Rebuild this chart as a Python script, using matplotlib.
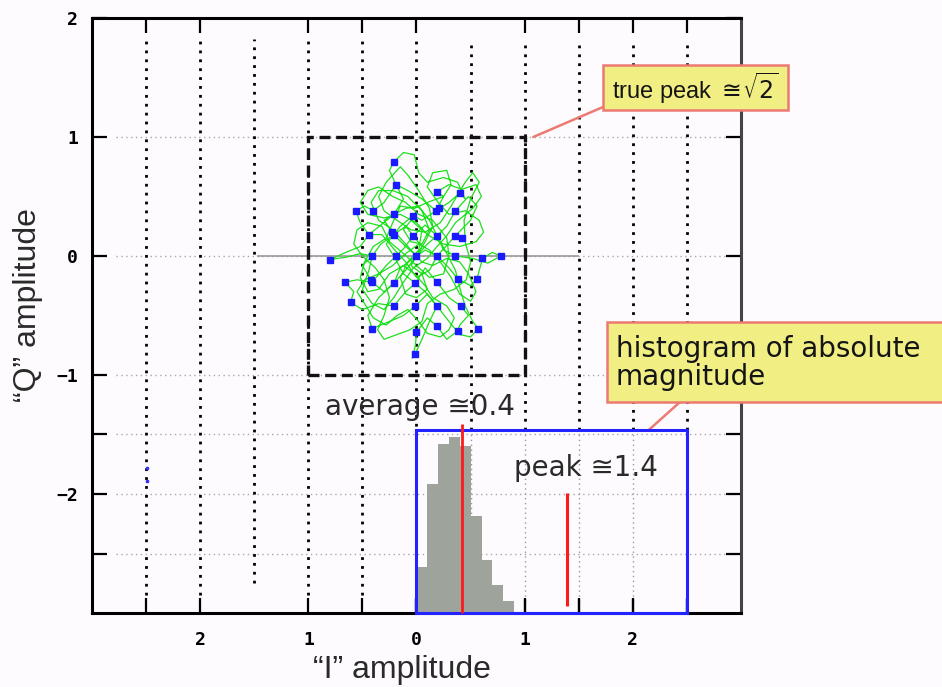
import matplotlib
matplotlib.use("Agg")
import matplotlib.pyplot as plt
from matplotlib.patches import Rectangle
import numpy as np

# ---- data ----
# green trajectory of the received (I, Q) signal, first pass
walk_i = [0.00, -0.10, -0.21, -0.30, -0.21, -0.12, -0.19, -0.25, -0.21, -0.12,
          -0.02, 0.02, 0.10, 0.25, 0.38, 0.45, 0.40, 0.30, 0.18, 0.05,
          -0.03, -0.15, -0.21, -0.33, -0.41, -0.50, -0.41, -0.30, -0.21, -0.10,
          0.00, 0.10, 0.19, 0.28, 0.36, 0.48, 0.56, 0.50, 0.36, 0.27,
          0.19, 0.30, 0.38, 0.50, 0.56, 0.61, 0.70, 0.78, 0.66, 0.52,
          0.36, 0.25, 0.19, 0.08, -0.03, -0.12, -0.19, -0.28, -0.41, -0.55,
          -0.66, -0.58, -0.61, -0.50, -0.35, -0.21, -0.10, -0.01, 0.08, 0.19,
          0.30, 0.41, 0.48, 0.40, 0.38, 0.28, 0.19, 0.10, 0.00, -0.01,
          -0.04, -0.01, 0.05, 0.12, 0.19, 0.10, -0.01, -0.12, -0.25, -0.41,
          -0.45, -0.35, -0.21, -0.15, -0.03, 0.08, 0.19, 0.12, 0.00, -0.10,
          -0.21, -0.32, -0.44, -0.52, -0.56, -0.48, -0.40, -0.30, -0.19, -0.08,
          0.05, 0.18, 0.25, 0.19, 0.30, 0.42, 0.55, 0.60, 0.52, 0.36,
          0.28, 0.19, 0.10, -0.03, -0.12, -0.21, -0.30, -0.41, -0.50, -0.44,
          -0.41, -0.52, -0.65, -0.80, -0.68, -0.52, -0.44, -0.33, -0.21, -0.10,
          0.02, 0.12, 0.19, 0.28, 0.36, 0.41, 0.45, 0.52, 0.57, 0.50,
          0.40, 0.30, 0.19, 0.08, -0.01, -0.12, -0.21, -0.28, -0.21, -0.10,
          -0.03, 0.05, 0.00]
walk_q = [0.00, 0.08, 0.18, 0.30, 0.35, 0.48, 0.60, 0.72, 0.79, 0.87,
          0.85, 0.70, 0.62, 0.66, 0.62, 0.48, 0.53, 0.45, 0.38, 0.30,
          0.34, 0.25, 0.18, 0.10, 0.00, -0.08, -0.22, -0.30, -0.23, -0.12,
          0.00, 0.10, 0.17, 0.25, 0.38, 0.50, 0.42, 0.30, 0.17, 0.08,
          0.00, -0.10, -0.19, -0.25, -0.19, -0.02, 0.03, 0.00, -0.06, -0.02,
          0.00, 0.05, 0.17, 0.26, 0.17, 0.06, 0.00, -0.08, -0.22, -0.20,
          -0.22, -0.30, -0.39, -0.45, -0.40, -0.42, -0.30, -0.23, -0.10, -0.22,
          -0.35, -0.42, -0.50, -0.58, -0.63, -0.70, -0.59, -0.52, -0.64, -0.75,
          -0.86, -0.82, -0.70, -0.55, -0.42, -0.32, -0.42, -0.50, -0.55, -0.61,
          -0.50, -0.35, -0.23, -0.10, -0.02, 0.05, 0.00, -0.12, -0.18, -0.05,
          0.06, 0.18, 0.18, 0.28, 0.38, 0.42, 0.38, 0.45, 0.60, 0.55,
          0.48, 0.38, 0.50, 0.54, 0.60, 0.56, 0.60, 0.50, 0.40, 0.28,
          0.17, 0.08, -0.02, -0.10, -0.22, -0.35, -0.45, -0.40, -0.28, -0.12,
          0.00, 0.02, -0.01, -0.03, 0.02, 0.08, 0.18, 0.26, 0.35, 0.40,
          0.42, 0.30, 0.17, 0.02, -0.12, -0.30, -0.42, -0.55, -0.61, -0.68,
          -0.66, -0.55, -0.42, -0.30, -0.23, -0.15, 0.00, 0.10, 0.18, 0.25,
          0.17, 0.08, 0.00]

# second pass of the same trajectory
walk2_i = [0.08, 0.15, 0.12, 0.02, -0.08, -0.15, -0.28, -0.35, -0.30, -0.18,
           -0.05, 0.08, 0.22, 0.32, 0.45, 0.52, 0.58, 0.50, 0.44, 0.45,
           0.50, 0.46, 0.35, 0.22, 0.10, 0.05, -0.06, -0.18, -0.30, -0.36,
           -0.30, -0.25, -0.30, -0.38, -0.50, -0.58, -0.55, -0.45, -0.32, -0.25,
           -0.12, 0.00, 0.12, 0.25, 0.30, 0.28, 0.15, 0.02, -0.10, -0.22,
           -0.35, -0.45, -0.52, -0.45, -0.30, -0.15, 0.00, 0.10, 0.25, 0.40,
           0.55, 0.62, 0.58, 0.45, 0.30, 0.20, 0.10, 0.15, 0.28, 0.32,
           0.25, 0.10, -0.02, -0.15, -0.22, -0.28, -0.40, -0.48, -0.52, -0.45,
           -0.35, -0.25, -0.12, -0.02, 0.08, 0.15, 0.28, 0.35, 0.30, 0.22,
           0.10, 0.02, -0.08, -0.18, -0.28, -0.40, -0.48, -0.55, -0.48, -0.35,
           -0.22, -0.10, 0.02, 0.12, 0.22, 0.32, 0.40, 0.50, 0.55, 0.48,
           0.40, 0.28, 0.15, 0.05, -0.05, -0.15, -0.22, -0.35, -0.42, -0.35,
           -0.22, -0.08, 0.05, 0.12, 0.05, -0.05, -0.12, -0.05, 0.05, 0.02,
           -0.08, -0.15, -0.10, 0.00, 0.10, 0.05, -0.05, 0.00]
walk2_q = [0.12, 0.25, 0.40, 0.55, 0.68, 0.75, 0.62, 0.50, 0.38, 0.30,
           0.22, 0.20, 0.28, 0.42, 0.62, 0.70, 0.62, 0.48, 0.30, 0.12,
           -0.05, -0.20, -0.28, -0.32, -0.40, -0.55, -0.62, -0.66, -0.70, -0.62,
           -0.50, -0.35, -0.20, -0.10, 0.00, 0.10, 0.22, 0.28, 0.25, 0.12,
           0.02, -0.08, -0.18, -0.15, 0.00, 0.15, 0.30, 0.35, 0.45, 0.50,
           0.58, 0.55, 0.45, 0.35, 0.32, 0.35, 0.28, 0.18, 0.10, 0.08,
           0.12, 0.20, 0.30, 0.38, 0.35, 0.45, 0.58, 0.70, 0.72, 0.60,
           0.50, 0.45, 0.40, 0.42, 0.28, 0.15, 0.08, -0.05, -0.18, -0.30,
           -0.28, -0.15, -0.08, -0.15, -0.25, -0.35, -0.42, -0.52, -0.62, -0.68,
           -0.65, -0.55, -0.45, -0.50, -0.58, -0.52, -0.40, -0.30, -0.20, -0.15,
           -0.08, 0.02, 0.10, 0.05, -0.05, -0.18, -0.32, -0.38, -0.30, -0.15,
           -0.05, -0.02, -0.08, -0.05, 0.05, 0.15, 0.22, 0.30, 0.45, 0.55,
           0.55, 0.50, 0.38, 0.22, 0.10, 0.12, 0.22, 0.30, 0.22, 0.05,
           -0.05, -0.18, -0.32, -0.35, -0.28, -0.15, -0.08, 0.00]

# blue symbol instants
sym_i = [-0.21, -0.19, 0.19, 0.40, -0.56, -0.40, -0.21, -0.03, 0.18, 0.36,
         -0.44, -0.21, -0.03, 0.19, 0.36, -0.80, -0.41, -0.19, 0.00, 0.19,
         0.36, 0.61, 0.78, -0.66, -0.41, -0.21, -0.01, 0.19, 0.38, 0.56,
         -0.61, -0.21, -0.01, 0.19, 0.41, -0.41, 0.19, 0.38, 0.57, 0.00,
         -0.01, -0.23, 0.21, -0.42, 0.42]
sym_q = [0.79, 0.60, 0.54, 0.53, 0.38, 0.38, 0.35, 0.34, 0.38, 0.38,
         0.18, 0.18, 0.17, 0.17, 0.17, -0.03, 0.00, 0.00, 0.00, 0.00,
         0.00, -0.02, 0.00, -0.22, -0.22, -0.23, -0.23, -0.22, -0.19, -0.19,
         -0.39, -0.42, -0.42, -0.42, -0.42, -0.61, -0.59, -0.63, -0.61, -0.64,
         -0.82, 0.20, 0.40, -0.20, 0.15]
stray_i = [-2.49, -2.49]
stray_q = [-1.78, -1.89]

# histogram of |I + jQ|
mag_bins = [0.0, 0.1, 0.2, 0.3, 0.4, 0.5, 0.6, 0.7, 0.8]
mag_counts = [26, 73, 96, 100, 95, 55, 30, 16, 7]
avg_mag = 0.42
peak_mag = 1.39

x_ticks = [-2.5, -2, -1, -0.5, 0, 1, 1.5, 2, 2.5]
x_labels = ["", "2", "1", "", "0", "1", "", "2", ""]
y_ticks = [-2.5, -2, -1.5, -1, 0, 1, 2]
y_labels = ["", "\u22122", "", "\u22121", "0", "1", "2"]
grid_x = [-2.5, -2, -1.5, -1, -0.5, 0, 0.5, 1, 1.5, 2, 2.5]
grid_y = [-2.5, -2, -1.5, -1, 0, 1]

W, H = 942, 687
bg = "#fdfbfd"
sans = ["Liberation Sans", "DejaVu Sans"]
wide = ["DejaVu Sans"]
plt.rcParams["mathtext.fontset"] = "dejavusans"


def fxy(px, py):
    # picture pixel (top-left origin) -> figure fraction
    return px / W, 1 - py / H


fig = plt.figure(figsize=(W / 100, H / 100), dpi=100, facecolor=bg)
ax = fig.add_axes([92 / W, 1 - 613 / H, (741 - 92) / W, (613 - 18) / H])
ax.set_facecolor(bg)
ax.set_xlim(-3, 3)
ax.set_ylim(-3, 2)

for s in ax.spines.values():
    s.set_linewidth(2.2)
ax.spines["right"].set_color("#444444")

ax.set_xticks(x_ticks)
ax.set_xticklabels(x_labels)
ax.set_yticks(y_ticks)
ax.set_yticklabels(y_labels)
ax.tick_params(direction="in", length=11, width=1.6, top=True, right=True,
               labelsize=13)
ax.tick_params(axis="x", pad=13)
ax.tick_params(axis="y", pad=10)
for lab in ax.get_xticklabels() + ax.get_yticklabels():
    lab.set_family("DejaVu Sans Mono")
    lab.set_fontweight("bold")

# light horizontal grid
ax.hlines(grid_y, -2.78, 2.95, colors="#a8a8a8", linewidth=1.0,
          linestyles=(0, (1, 2.5)), zorder=1)
# bold dotted vertical grid
for gx in grid_x:
    if gx > 0:
        ax.vlines(gx, -1.46, 1.82, colors="black", linewidth=2.0,
                  linestyles=(0, (1, 2.2)), zorder=1)
        ax.vlines(gx, -2.9, -1.46, colors="#9a9a9a", linewidth=1.0,
                  linestyles=(0, (1, 2.5)), zorder=1)
    else:
        ax.vlines(gx, -2.85 if gx != -1.5 else -2.75, 1.82, colors="black",
                  linewidth=2.0, linestyles=(0, (1, 2.2)), zorder=1)

# axis through origin
ax.hlines(0, -1.47, 1.5, colors="#999999", linewidth=1.2, zorder=2)

# dashed unit box
ax.add_patch(Rectangle((-1, -1), 2, 2, fill=False, edgecolor="#111111",
                       linewidth=2.4, linestyle=(0, (3.3, 1.7)), zorder=3))

# trajectory and symbols
ax.plot(walk_i + walk2_i, walk_q + walk2_q, color="#1de01d", linewidth=0.9,
        zorder=4)
ax.plot(sym_i, sym_q, linestyle="none", marker="s", markersize=4.5,
        color="#1a1aff", zorder=5)
ax.plot(stray_i, stray_q, linestyle="none", marker="s", markersize=1.5,
        color="#3030ff", zorder=5)

# histogram inset
hx = ax.inset_axes([0, -3, 2.5, 1.54], transform=ax.transData)
hx.patch.set_alpha(0)
hx.set_xlim(0, 2.5)
hx.set_ylim(0, 104)
hx.bar(mag_bins, mag_counts, width=0.102, align="edge", color="#9ea39b",
       linewidth=0, zorder=2)
hx.vlines(avg_mag, 0, 107, colors="#ff1a1a", linewidth=2.0, zorder=3,
          clip_on=False)
hx.vlines(peak_mag, 4, 68, colors="#ff1a1a", linewidth=2.2, zorder=3)
for s in hx.spines.values():
    s.set_color("#2323ff")
    s.set_linewidth(2.2)
hx.set_xticks([0, 1, 1.5, 2, 2.5])
hx.set_xticklabels([])
hx.set_yticks([])
hx.tick_params(axis="x", direction="in", length=10, width=1.6, color="black")

ax.text(0.03, -1.27, "average \u22450.4", ha="center", va="center",
        fontsize=20, family=wide, color="#2a2a2a", zorder=6)
ax.text(1.57, -1.78, "peak \u22451.4", ha="center", va="center",
        fontsize=20, family=wide, color="#2a2a2a", zorder=6)

# yellow callouts
yellow = "#f1ee84"
edge = "#ec7a72"
fig.patches.append(Rectangle(fxy(603, 110), 185 / W, 45 / H,
                             transform=fig.transFigure, facecolor=yellow,
                             edgecolor=edge, linewidth=1.8, zorder=10))
fig.text(*fxy(695, 88), r"true peak $\cong\!\sqrt{2}$", ha="center",
         va="center", fontsize=17, family=sans, color="#151515", zorder=11)
ax.annotate("", xy=(1.08, 1.0), xytext=fxy(603, 107),
            textcoords="figure fraction", annotation_clip=False,
            arrowprops=dict(arrowstyle="-", color=edge, linewidth=1.8,
                            shrinkA=0, shrinkB=0))

fig.patches.append(Rectangle(fxy(607, 402), 345 / W, 80 / H,
                             transform=fig.transFigure, facecolor=yellow,
                             edgecolor=edge, linewidth=1.8, zorder=10))
fig.text(*fxy(616, 363), "histogram of absolute\nmagnitude", ha="left",
         va="center", fontsize=20, family=wide, color="#151515",
         linespacing=1.0, zorder=11)
ax.annotate("", xy=(2.15, -1.46), xytext=fxy(680, 402),
            textcoords="figure fraction", annotation_clip=False,
            arrowprops=dict(arrowstyle="-", color=edge, linewidth=1.8,
                            shrinkA=0, shrinkB=0))

# axis titles
fig.text(*fxy(402, 670), "\u201cI\u201d amplitude", ha="center", va="center",
         fontsize=23, family=sans, color="#2a2a2a")
fig.text(*fxy(28, 305), "\u201cQ\u201d amplitude", ha="center", va="center",
         rotation=90, fontsize=23, family=sans, color="#2a2a2a")

fig.savefig("out.png", dpi=100, facecolor=bg)
